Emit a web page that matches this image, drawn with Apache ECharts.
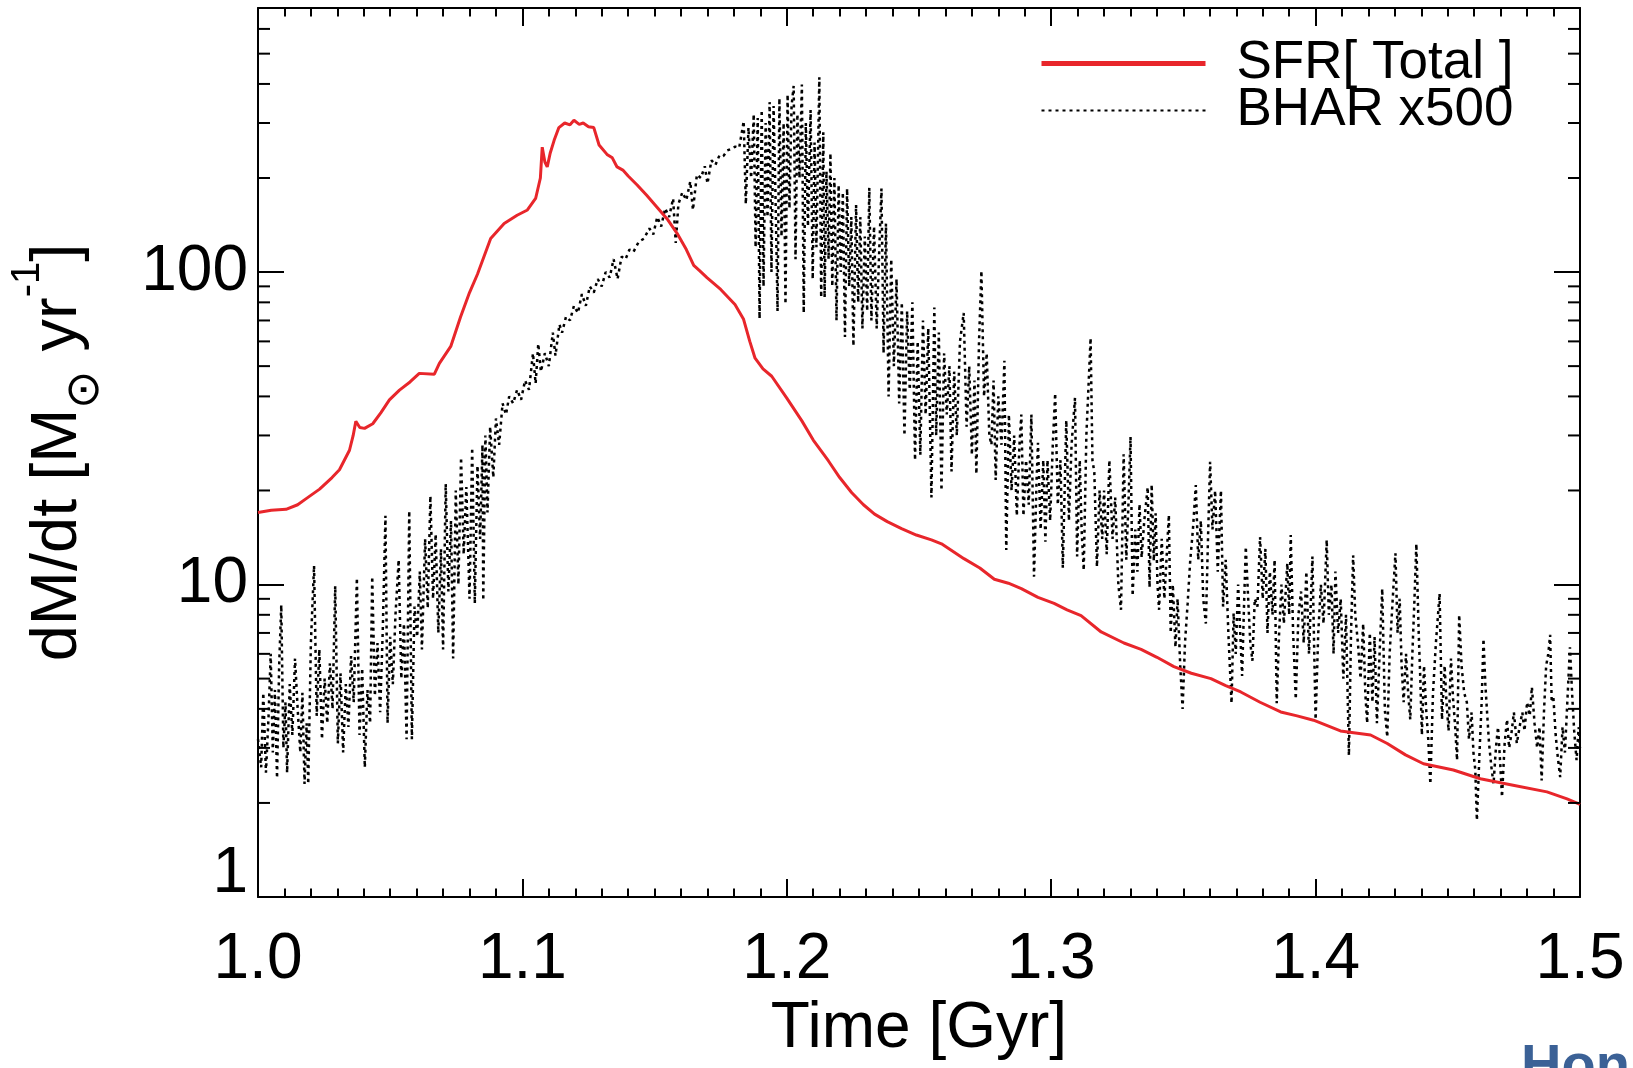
<!DOCTYPE html>
<html><head><meta charset="utf-8">
<script src="https://cdn.jsdelivr.net/npm/echarts@6/dist/echarts.min.js"></script>
<style>html,body{margin:0;padding:0;background:#fff}#c{width:1633px;height:1068px}</style>
</head><body><div id="c"></div>
<script>
// ---------- data ----------
const xMin = 1.0, xMax = 1.5, xStep = 0.1;
const yMin = 1, yMax = 700;
const yMajorLabels = [1, 10, 100];
const yMinorTicks = [2,3,4,5,6,7,8,9,20,30,40,50,60,70,80,90,200,300,400,500,600];
const seriesNames = ['SFR[ Total ]', 'BHAR x500'];

// SFR (total), [time Gyr, Msun/yr]
const sfr = [
[1.0000,17.0],[1.0050,17.3],[1.0106,17.4],[1.0150,18.0],[1.0181,18.8],[1.0233,20.2],[1.0280,22.0],
[1.0308,23.3],[1.0346,26.9],[1.0360,30.0],[1.0370,33.3],[1.0385,31.8],[1.0403,31.6],[1.0434,32.7],
[1.0465,35.5],[1.0497,39.0],[1.0535,41.9],[1.0575,44.5],[1.0610,47.4],[1.0667,47.1],[1.0686,51.0],
[1.0729,57.8],[1.0766,71.8],[1.0800,86],[1.0830,98.4],[1.0880,128],[1.0931,143],[1.0980,152],
[1.1019,158],[1.1050,172],[1.1068,200],[1.1075,251],[1.1085,225],[1.1094,217],[1.1105,240],
[1.1120,264],[1.1138,290],[1.1160,300],[1.1180,296],[1.1195,306],[1.1215,297],[1.1230,300],[1.1250,292],
[1.1270,290],[1.1290,255],[1.1320,238],[1.1340,232],[1.1358,217],[1.1380,212],[1.1400,203],[1.1434,190],
[1.1470,176],[1.1510,161],[1.1550,147],[1.1585,133],[1.1620,118],[1.1648,105],[1.1670,101],[1.1698,96],
[1.1750,88],[1.1804,78.7],[1.1836,70.8],[1.1860,60],[1.1880,53],[1.1910,49],[1.1943,46.4],[1.2000,39.5],
[1.2057,33.4],[1.2100,29],[1.2157,24.9],[1.2200,22],[1.2245,19.7],[1.2290,18],[1.2332,16.8],[1.2380,15.9],
[1.2434,15.1],[1.2490,14.4],[1.2547,13.9],[1.2585,13.5],[1.2670,12.1],[1.2730,11.3],[1.2785,10.4],
[1.2838,10.1],[1.2887,9.7],[1.2950,9.1],[1.3011,8.7],[1.3060,8.3],[1.3113,7.95],[1.3189,7.05],[1.3275,6.5],
[1.3340,6.2],[1.3400,5.85],[1.3464,5.46],[1.3530,5.2],[1.3604,5.0],[1.3660,4.75],[1.3717,4.53],
[1.3790,4.2],[1.3868,3.91],[1.3930,3.8],[1.3992,3.68],[1.4094,3.4],[1.4208,3.3],[1.4271,3.1],
[1.4340,2.85],[1.4408,2.67],[1.4521,2.55],[1.4623,2.39],[1.4747,2.28],[1.4875,2.17],[1.4951,2.06],
[1.5000,1.98]
];

// BHAR x500, [time Gyr, Msun/yr]
const bhar = [
[1.0000,3.2],[1.0012,2.6],[1.0020,4.5],[1.0030,2.5],[1.0040,3.8],[1.0048,6.0],[1.0056,2.9],[1.0064,4.6],
[1.0072,2.4],[1.0080,5.5],[1.0088,8.6],[1.0096,3.0],[1.0104,4.2],[1.0110,2.5],[1.0120,4.8],[1.0130,3.3],
[1.0140,5.8],[1.0150,4.0],[1.0160,2.9],[1.0168,4.5],[1.0176,2.3],[1.0184,3.6],[1.0190,2.3],[1.0200,6.5],
[1.0212,11.5],[1.0222,3.8],[1.0232,6.2],[1.0242,3.2],[1.0252,5.0],[1.0262,3.6],[1.0272,5.6],[1.0282,4.0],
[1.0292,9.9],[1.0302,3.1],[1.0312,5.2],[1.0322,2.9],[1.0332,4.8],[1.0342,3.5],[1.0352,5.9],[1.0362,4.2],
[1.0374,10.5],[1.0384,3.3],[1.0394,5.4],[1.0404,2.6],[1.0414,4.6],[1.0424,3.6],[1.0432,10.6],[1.0442,4.4],
[1.0452,6.5],[1.0462,3.9],[1.0472,7.2],[1.0482,16.6],[1.0490,3.6],[1.0500,6.8],[1.0510,4.8],[1.0520,8.0],
[1.0532,12.0],[1.0542,5.0],[1.0552,7.5],[1.0562,3.2],[1.0572,17.2],[1.0582,3.2],[1.0592,8.5],[1.0602,6.8],
[1.0612,11.0],[1.0620,6.2],[1.0632,14.0],[1.0642,8.4],[1.0652,19.2],[1.0662,9.0],[1.0672,14.5],[1.0682,7.0],
[1.0692,13.0],[1.0700,6.2],[1.0710,21.0],[1.0720,9.5],[1.0730,16.0],[1.0738,5.8],[1.0748,20.0],[1.0758,10.0],
[1.0768,25.5],[1.0778,12.5],[1.0788,20.5],[1.0800,9.0],[1.0810,27.4],[1.0820,8.7],[1.0830,24.0],[1.0840,14.0],
[1.0849,28.0],[1.0852,8.9],[1.0860,30],[1.0868,17],[1.0878,32],[1.0890,22],[1.0900,34],[1.0912,28],
[1.0925,38],[1.0938,35],[1.0950,40],[1.0965,38],[1.0980,42],[1.0995,39],[1.1010,45],[1.1025,42],
[1.1040,55],[1.1050,44],[1.1060,59],[1.1070,48],[1.1085,55],[1.1100,50],[1.1115,64],[1.1125,54],
[1.1140,68],[1.1150,64],[1.1165,72],[1.1180,70],[1.1195,78],[1.1210,74],[1.1225,85],[1.1240,78],
[1.1255,90],[1.1270,86],[1.1285,95],[1.1300,90],[1.1315,100],[1.1330,96],[1.1345,110],[1.1360,95],
[1.1375,112],[1.1390,110],[1.1405,118],[1.1420,116],[1.1440,125],[1.1460,128],[1.1480,138],[1.1495,132],
[1.1510,150],[1.1525,140],[1.1540,160],[1.1555,150],[1.1570,172],[1.1580,124],[1.1590,165],[1.1605,180],
[1.1620,170],[1.1635,195],[1.1645,158],[1.1660,205],[1.1675,200],[1.1690,218],[1.1700,192],[1.1715,228],
[1.1730,220],[1.1745,236],[1.1760,235],[1.1775,245],[1.1790,248],[1.1805,252],[1.1820,250],
[1.1837,304],[1.1845,165],[1.1855,290],[1.1865,200],[1.1875,320],[1.1882,120],[1.1890,311],[1.1897,71],
[1.1905,330],[1.1912,90],[1.1920,300],[1.1927,150],[1.1935,350],[1.1942,100],[1.1950,340],[1.1957,180],
[1.1965,75],[1.1972,360],[1.1980,130],[1.1988,300],[1.1995,79],[1.2003,370],[1.2010,160],[1.2018,340],
[1.2026,394],[1.2033,110],[1.2040,320],[1.2048,200],[1.2057,398],[1.2064,74],[1.2072,300],[1.2080,140],
[1.2090,330],[1.2098,95],[1.2105,260],[1.2112,120],[1.2123,420],[1.2130,83],[1.2138,280],[1.2143,83],
[1.2150,210],[1.2158,110],[1.2165,240],[1.2172,90],[1.2180,200],[1.2188,70],[1.2196,190],[1.2204,100],
[1.2212,180],[1.2220,62],[1.2228,185],[1.2236,90],[1.2244,150],[1.2252,58],[1.2262,164],[1.2270,80],
[1.2278,150],[1.2286,66],[1.2295,130],[1.2304,75],[1.2312,186],[1.2320,70],[1.2330,140],[1.2340,66],
[1.2350,120],[1.2358,185],[1.2366,55],[1.2375,143],[1.2385,40],[1.2395,110],[1.2405,50],[1.2415,95],
[1.2425,38],[1.2435,80],[1.2445,30],[1.2455,75],[1.2465,42],[1.2475,80],[1.2485,25],[1.2495,60],
[1.2505,26],[1.2515,70],[1.2525,35],[1.2535,66],[1.2547,19],[1.2558,77],
[1.2565,30],[1.2575,64],[1.2585,20],[1.2595,55],[1.2605,35],[1.2615,50],[1.2623,23],[1.2633,48],
[1.2643,30],[1.2655,60],[1.2669,74],[1.2680,32],[1.2690,50],[1.2700,26],[1.2710,45],[1.2717,22.6],
[1.2727,60],[1.2736,101],[1.2746,40],[1.2756,55],[1.2766,30],[1.2774,28],[1.2782,45],[1.2790,21.6],
[1.2800,40],[1.2812,28],[1.2823,52],[1.2830,12.9],[1.2840,35],[1.2850,20],[1.2860,30],[1.2870,16.6],
[1.2880,28],[1.2887,35],[1.2895,16.6],[1.2905,25],[1.2915,18],[1.2925,35],[1.2935,10.6],[1.2945,22],
[1.2950,28.4],[1.2960,15],[1.2970,25],[1.2978,13.7],[1.2986,25],[1.2996,16],[1.3006,28],[1.3015,40.9],
[1.3025,18],[1.3035,25],[1.3044,11.3],[1.3057,33.5],[1.3067,16],[1.3077,28],[1.3090,39.6],[1.3098,12.3],
[1.3108,25],[1.3115,15],[1.3123,11.1],[1.3133,30],[1.3149,61.5],[1.3156,25],[1.3163,22.9],[1.3173,11.4],
[1.3183,20],[1.3193,14],[1.3200,20],[1.3210,12.5],[1.3220,25],[1.3232,14],[1.3242,19],[1.3254,10],
[1.3264,8.3],[1.3274,26.1],[1.3284,12],[1.3292,18],[1.3300,29.7],[1.3308,9.2],[1.3318,15],[1.3326,11],
[1.3334,18.1],[1.3342,12.2],[1.3352,16],[1.3365,20.5],[1.3372,9.8],[1.3380,20.9],[1.3388,11.9],
[1.3395,16.9],[1.3402,10],[1.3408,8.3],[1.3418,14],[1.3428,9],[1.3436,12],[1.3445,16.7],[1.3452,7],
[1.3460,10],[1.3470,6.3],[1.3478,9],[1.3488,5.5],[1.3497,4.0],[1.3506,6.5],[1.3516,8.7],[1.3526,12],
[1.3536,15],[1.3547,20.8],[1.3556,12],[1.3566,16],[1.3575,9],[1.3585,7.5],[1.3593,14],[1.3601,24.7],
[1.3610,15],[1.3620,20],[1.3630,11],[1.3642,20],[1.3650,8.5],[1.3660,12],[1.3670,7],[1.3682,4.17],
[1.3690,8.1],[1.3698,6],[1.3707,10],[1.3715,7],[1.3722,5.1],[1.3730,9],[1.3736,13.2],[1.3745,9],
[1.3753,6.5],[1.3761,5.7],[1.3770,9],[1.3780,8.5],[1.3790,14.2],[1.3800,9],[1.3810,13],[1.3818,7],
[1.3827,11],[1.3837,8],[1.3845,12],[1.3853,4.17],[1.3862,7],[1.3871,10],[1.3880,7.5],[1.3893,11.7],
[1.3900,8],[1.3906,14.4],[1.3915,7],[1.3925,4.3],[1.3935,8],[1.3945,9.5],[1.3955,6.5],[1.3965,11],
[1.3975,6],[1.3988,12.3],[1.3995,6],[1.4000,3.7],[1.4010,7],[1.4020,10],[1.4030,7.5],[1.4042,13.9],
[1.4050,8],[1.4060,10],[1.4068,6],[1.4075,11],[1.4085,7],[1.4095,9],[1.4105,5],[1.4115,8],
[1.4126,2.84],[1.4134,7],[1.4142,12.4],[1.4150,8],[1.4160,6.5],[1.4170,5],[1.4180,7.5],[1.4188,4.5],
[1.4195,3.6],[1.4205,7.0],[1.4215,4.2],[1.4223,6.8],[1.4232,3.6],[1.4242,6],[1.4252,9.7],[1.4262,3.96],
[1.4271,3.25],[1.4280,6],[1.4290,8.5],[1.4302,12.6],[1.4310,7],[1.4318,9],[1.4325,5.6],[1.4333,4.2],
[1.4342,6],[1.4350,4.5],[1.4358,3.7],[1.4366,6],[1.4374,9],[1.4381,13.5],[1.4390,7],[1.4396,5],
[1.4402,3.3],[1.4410,5.5],[1.4418,4],[1.4426,3.2],[1.4434,2.3],[1.4444,4.5],[1.4455,6.5],[1.4469,9.35],
[1.4478,3.7],[1.4488,5.5],[1.4495,4.2],[1.4503,3.4],[1.4512,5.8],[1.4520,4.3],[1.4528,3.5],[1.4535,2.74],
[1.4543,8.0],[1.4552,5.5],[1.4562,4.5],[1.4572,4.2],[1.4580,3.2],[1.4590,3.9],[1.4597,2.9],[1.4604,2.55],
[1.4610,1.76],[1.4620,2.9],[1.4628,4.2],[1.4635,6.7],[1.4642,4.8],[1.4648,3.96],[1.4656,3.1],[1.4665,2.6],
[1.4673,2.3],[1.4682,3.0],[1.4690,3.5],[1.4698,2.7],[1.4705,2.09],[1.4715,3.1],[1.4724,3.7],[1.4732,3.0],
[1.4740,3.3],[1.4750,3.9],[1.4761,3.1],[1.4774,3.6],[1.4782,3.9],[1.4790,3.4],[1.4800,4.2],[1.4810,3.8],
[1.4818,4.7],[1.4828,3.6],[1.4838,3.0],[1.4847,3.5],[1.4855,2.36],[1.4864,3.96],[1.4872,5.5],[1.4880,6.0],
[1.4887,6.9],[1.4893,4.2],[1.4899,4.4],[1.4908,3.3],[1.4916,2.8],[1.4925,2.42],[1.4934,3.5],[1.4943,2.9],
[1.4952,4.2],[1.4962,6.3],[1.4970,4.5],[1.4978,3.4],[1.4987,2.74],[1.4995,3.5],[1.5000,3.0]
];

// ---------- chart ----------
const FONT = '"Liberation Sans", Arial, Helvetica, sans-serif';
const chart = echarts.init(document.getElementById('c'), null, {renderer: 'canvas'});
const isPow10 = v => Math.abs(Math.log10(v) - Math.round(Math.log10(v))) < 1e-6;

const xAxisBase = {
  type: 'value', min: xMin, max: xMax, interval: xStep,
  axisLine: {show: true, onZero: false, lineStyle: {color: '#000', width: 2}},
  axisTick: {show: true, inside: true, length: 18, lineStyle: {color: '#000', width: 2}},
  minorTick: {show: true, splitNumber: 10, length: 8.5, lineStyle: {color: '#000', width: 2}},
  splitLine: {show: false}, minorSplitLine: {show: false}
};
const yAxisBase = {
  type: 'log', logBase: 10, min: yMin, max: yMax,
  axisLine: {show: true, onZero: false, lineStyle: {color: '#000', width: 2}},
  axisTick: {show: true, inside: true, length: 26, lineStyle: {color: '#000', width: 2}},
  splitLine: {show: false}
};

chart.setOption({
  animation: false,
  backgroundColor: '#fff',
  grid: {left: 255, right: 53, top: 8, bottom: 171, containLabel: false},
  xAxis: [
    Object.assign({}, xAxisBase, {
      position: 'bottom',
      name: 'Time [Gyr]', nameLocation: 'middle', nameGap: 100,
      nameTextStyle: {fontFamily: FONT, fontSize: 64, color: '#000'},
      axisLabel: {show: true, margin: 31, fontFamily: FONT, fontSize: 64, color: '#000',
        formatter: v => v.toFixed(1)}
    }),
    Object.assign({}, xAxisBase, {position: 'top', axisLabel: {show: false}})
  ],
  yAxis: [
    Object.assign({}, yAxisBase, {
      position: 'left',
      name: '{a|dM/dt [M}{s|\u2299}{a| yr}{p|-1}{a|]}',
      nameLocation: 'middle', nameRotate: 90, nameGap: 150,
      nameTextStyle: {fontFamily: FONT, fontSize: 65, color: '#000',
        rich: {
          a: {fontFamily: FONT, fontSize: 65, lineHeight: 100, color: '#000'},
          s: {fontFamily: FONT, fontSize: 46, lineHeight: 50, verticalAlign: 'bottom', color: '#000'},
          p: {fontFamily: FONT, fontSize: 40, lineHeight: 36, verticalAlign: 'top', color: '#000'}
        }},
      axisLabel: {show: true, margin: 10, fontFamily: FONT, fontSize: 64, lineHeight: 46, color: '#000',
        verticalAlignMinLabel: 'bottom',
        formatter: v => isPow10(v) ? String(Math.round(v)) : ''}
    }),
    Object.assign({}, yAxisBase, {position: 'right', axisLabel: {show: false}})
  ],
  legend: {
    show: true, orient: 'vertical', left: 1039, top: 37, padding: 0, itemGap: -6,
    itemWidth: 164, itemHeight: 20,
    itemStyle: {opacity: 0},
    data: [
      {name: seriesNames[0], lineStyle: {width: 5}},
      {name: seriesNames[1]}
    ],
    textStyle: {fontFamily: FONT, fontSize: 53, color: '#000', lineHeight: 37, padding: [0, 0, 0, 26]}
  },
  series: [
    {
      name: seriesNames[1], type: 'line', data: bhar, xAxisIndex: 0, yAxisIndex: 0,
      symbol: 'none', showSymbol: false, smooth: false, z: 2,
      itemStyle: {color: '#000'},
      lineStyle: {color: '#000', width: 2.5, type: [3, 4]}
    },
    {
      name: seriesNames[0], type: 'line', data: sfr, xAxisIndex: 0, yAxisIndex: 0,
      symbol: 'none', showSymbol: false, smooth: false, z: 3,
      itemStyle: {color: '#e8262b'},
      lineStyle: {color: '#e8262b', width: 3}
    },
    {
      type: 'custom', silent: true, xAxisIndex: 0, yAxisIndex: 0, z: 5,
      data: yMinorTicks.map(v => [xMin, v]),
      encode: {x: 0, y: 1},
      renderItem: function (params, api) {
        const p = api.coord([api.value(0), api.value(1)]);
        const cs = params.coordSys;
        const st = {stroke: '#000', lineWidth: 2};
        return {type: 'group', children: [
          {type: 'line', shape: {x1: cs.x, y1: p[1], x2: cs.x + 12, y2: p[1]}, style: st},
          {type: 'line', shape: {x1: cs.x + cs.width - 12, y1: p[1], x2: cs.x + cs.width, y2: p[1]}, style: st}
        ]};
      }
    }
  ],
  graphic: [
    {type: 'text', left: 1521, top: 1040, silent: true,
     style: {text: 'Hon', fill: '#3b6196', font: 'bold 56px ' + FONT}}
  ]
});
</script>
</body></html>
